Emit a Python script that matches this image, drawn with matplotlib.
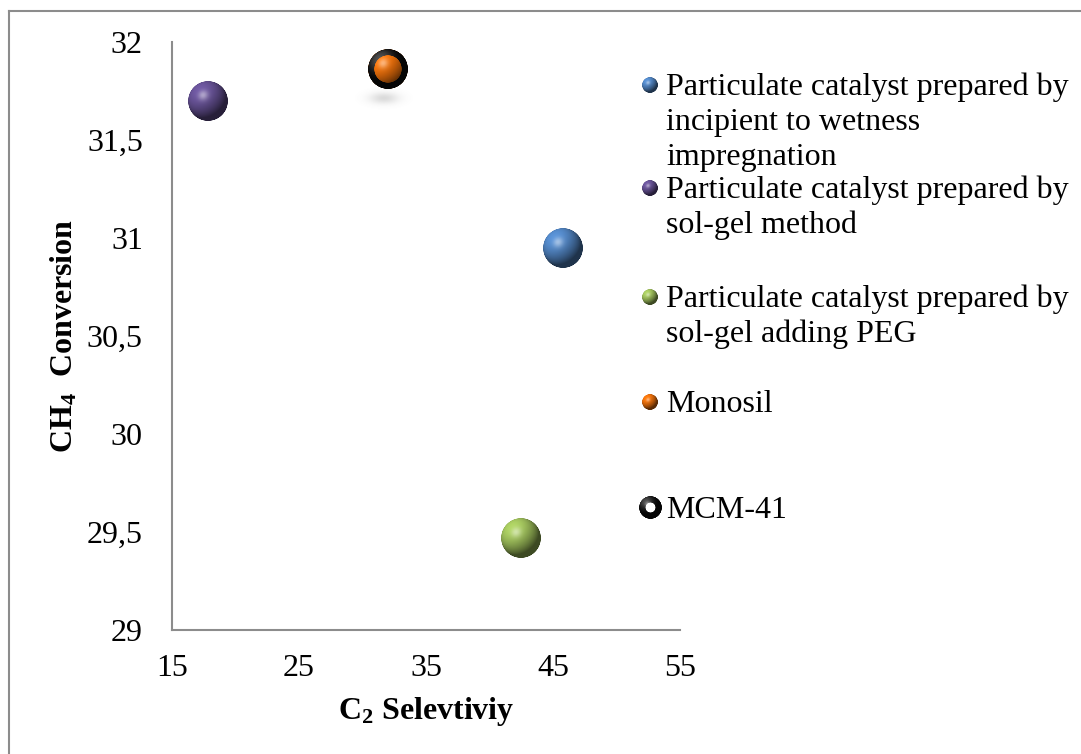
import numpy as np
import matplotlib
matplotlib.use("Agg")
import matplotlib.pyplot as plt
from matplotlib.colors import to_rgb
from matplotlib.lines import Line2D
from matplotlib.offsetbox import OffsetImage, AnnotationBbox

plt.rcParams['font.family'] = ['Liberation Serif', 'DejaVu Serif']
plt.rcParams['mathtext.fontset'] = 'custom'
plt.rcParams['mathtext.rm'] = 'Liberation Serif'
plt.rcParams['mathtext.bf'] = 'Liberation Serif:bold'

# catalyst data
labels = ["Particulate catalyst prepared by\nincipient to wetness\nimpregnation",
          "Particulate catalyst prepared by\nsol-gel method",
          "Particulate catalyst prepared by\nsol-gel adding PEG",
          "Monosil",
          "MCM-41"]
selectivity = [45.8, 17.8, 42.5, 32.0, 32.0]
conversion = [30.95, 31.70, 29.47, 31.86, 31.86]
colors = ['#4F81BD', '#634F90', '#9BBB59', '#E46C0A', '#000000']
hollow = [False, False, False, False, True]

x_ticks = [15, 25, 35, 45, 55]
y_ticks = [29, 29.5, 30, 30.5, 31, 31.5, 32]
y_ticklabels = ['29', '29,5', '30', '30,5', '31', '31,5', '32']

W, H = 1081, 754
SC = 4  # supersampling for marker images


def sphere(color, diam, hole=0.0):
    n = int(diam * SC)
    yy, xx = np.mgrid[0:n, 0:n]
    u = (xx + 0.5 - n / 2) / (n / 2)
    v = -(yy + 0.5 - n / 2) / (n / 2)
    r = np.sqrt(u ** 2 + v ** 2)
    z = np.sqrt(np.clip(1 - r ** 2, 0, 1))
    L = np.array([-0.45, 0.55, 0.70])
    L = L / np.linalg.norm(L)
    diff = np.clip(u * L[0] + v * L[1] + z * L[2], 0, 1)
    base = np.array(to_rgb(color))
    if color == '#000000':
        rgb = np.ones((n, n, 3)) * (0.02 + 0.28 * diff ** 4)[..., None]
    else:
        rgb = base * (0.40 + 0.75 * diff)[..., None]
    Hv = L + np.array([0, 0, 1.0])
    Hv = Hv / np.linalg.norm(Hv)
    spec = np.clip(u * Hv[0] + v * Hv[1] + z * Hv[2], 0, 1) ** 30 * 0.45
    rgb = np.clip(rgb + spec[..., None] * (1 - rgb), 0, 1)
    edge = n / 2
    alpha = np.clip((1 - r) * edge, 0, 1)
    if hole > 0:
        alpha = alpha * np.clip((r - hole) * edge, 0, 1)
    return np.dstack([rgb, alpha])


def shadow(w, h):
    n_w, n_h = int(w * SC), int(h * SC)
    yy, xx = np.mgrid[0:n_h, 0:n_w]
    u = (xx + 0.5 - n_w / 2) / (n_w / 2)
    v = (yy + 0.5 - n_h / 2) / (n_h / 2)
    a = np.exp(-((u / 0.5) ** 2 + (v / 0.45) ** 2) * 1.6) * 0.28
    rgb = np.ones((n_h, n_w, 3)) * 0.5
    return np.dstack([rgb, a])


def place(ax_or_fig, img, xy, coords, offset=None):
    box = OffsetImage(img, zoom=1.0 / SC, dpi_cor=False)
    kw = dict(frameon=False, pad=0, xycoords=coords)
    if offset is not None:
        kw.update(xybox=offset, boxcoords='offset pixels')
    ab = AnnotationBbox(box, xy, **kw)
    ax_or_fig.add_artist(ab)


fig = plt.figure(figsize=(W / 100, H / 100), dpi=100)

# outer frame (top and left edges)
fig.add_artist(Line2D([9 / W, 1], [1 - 11 / H] * 2, transform=fig.transFigure,
                      color='#8C8C8C', lw=1.5))
fig.add_artist(Line2D([9 / W] * 2, [0, 1 - 11 / H], transform=fig.transFigure,
                      color='#8C8C8C', lw=1.5))

ax = fig.add_axes([172 / W, 1 - 630 / H, 508 / W, 588 / H])
ax.set_xlim(15, 55)
ax.set_ylim(29, 32)
ax.set_xticks(x_ticks)
ax.set_xticklabels([str(t) for t in x_ticks])
ax.set_yticks(y_ticks)
ax.set_yticklabels(y_ticklabels)
ax.tick_params(axis='both', length=0, labelsize=23)
ax.tick_params(axis='x', pad=17)
ax.tick_params(axis='y', pad=21)
for s in ['top', 'right']:
    ax.spines[s].set_visible(False)
for s in ['left', 'bottom']:
    ax.spines[s].set_color('#8C8C8C')
    ax.spines[s].set_linewidth(1.5)

ax.set_xlabel(r'$\mathbf{C_2}$ Selevtiviy', fontsize=23, fontweight='bold')
ax.xaxis.set_label_coords(0.5, -0.11)
ax.set_ylabel(r'$\mathbf{CH_4}$  Conversion', fontsize=23, fontweight='bold')
ax.yaxis.set_label_coords(-0.183, 0.5)

# soft shadow below the MCM-41 point
place(ax, shadow(72, 32), (selectivity[4], conversion[4]), 'data', offset=(-4, -29))

for xs, ys, c, h in zip(selectivity, conversion, colors, hollow):
    if h:
        img = sphere(c, 40, hole=0.68)
    else:
        img = sphere(c, 40)
    place(ax, img, (xs, ys), 'data')

# legend
leg_y = [85, 188, 297, 402, 508]
for lab, c, h, yc in zip(labels, colors, hollow, leg_y):
    if h:
        img = sphere(c, 23, hole=0.42)
    else:
        img = sphere(c, 16)
    place(fig, img, (650 / W, 1 - yc / H), 'figure fraction')
    for j, line in enumerate(lab.split('\n')):
        fig.text(666 / W, 1 - (yc + 10 + 35 * j) / H, line, fontsize=23,
                 ha='left', va='baseline')

fig.savefig('out.png', dpi=100)
